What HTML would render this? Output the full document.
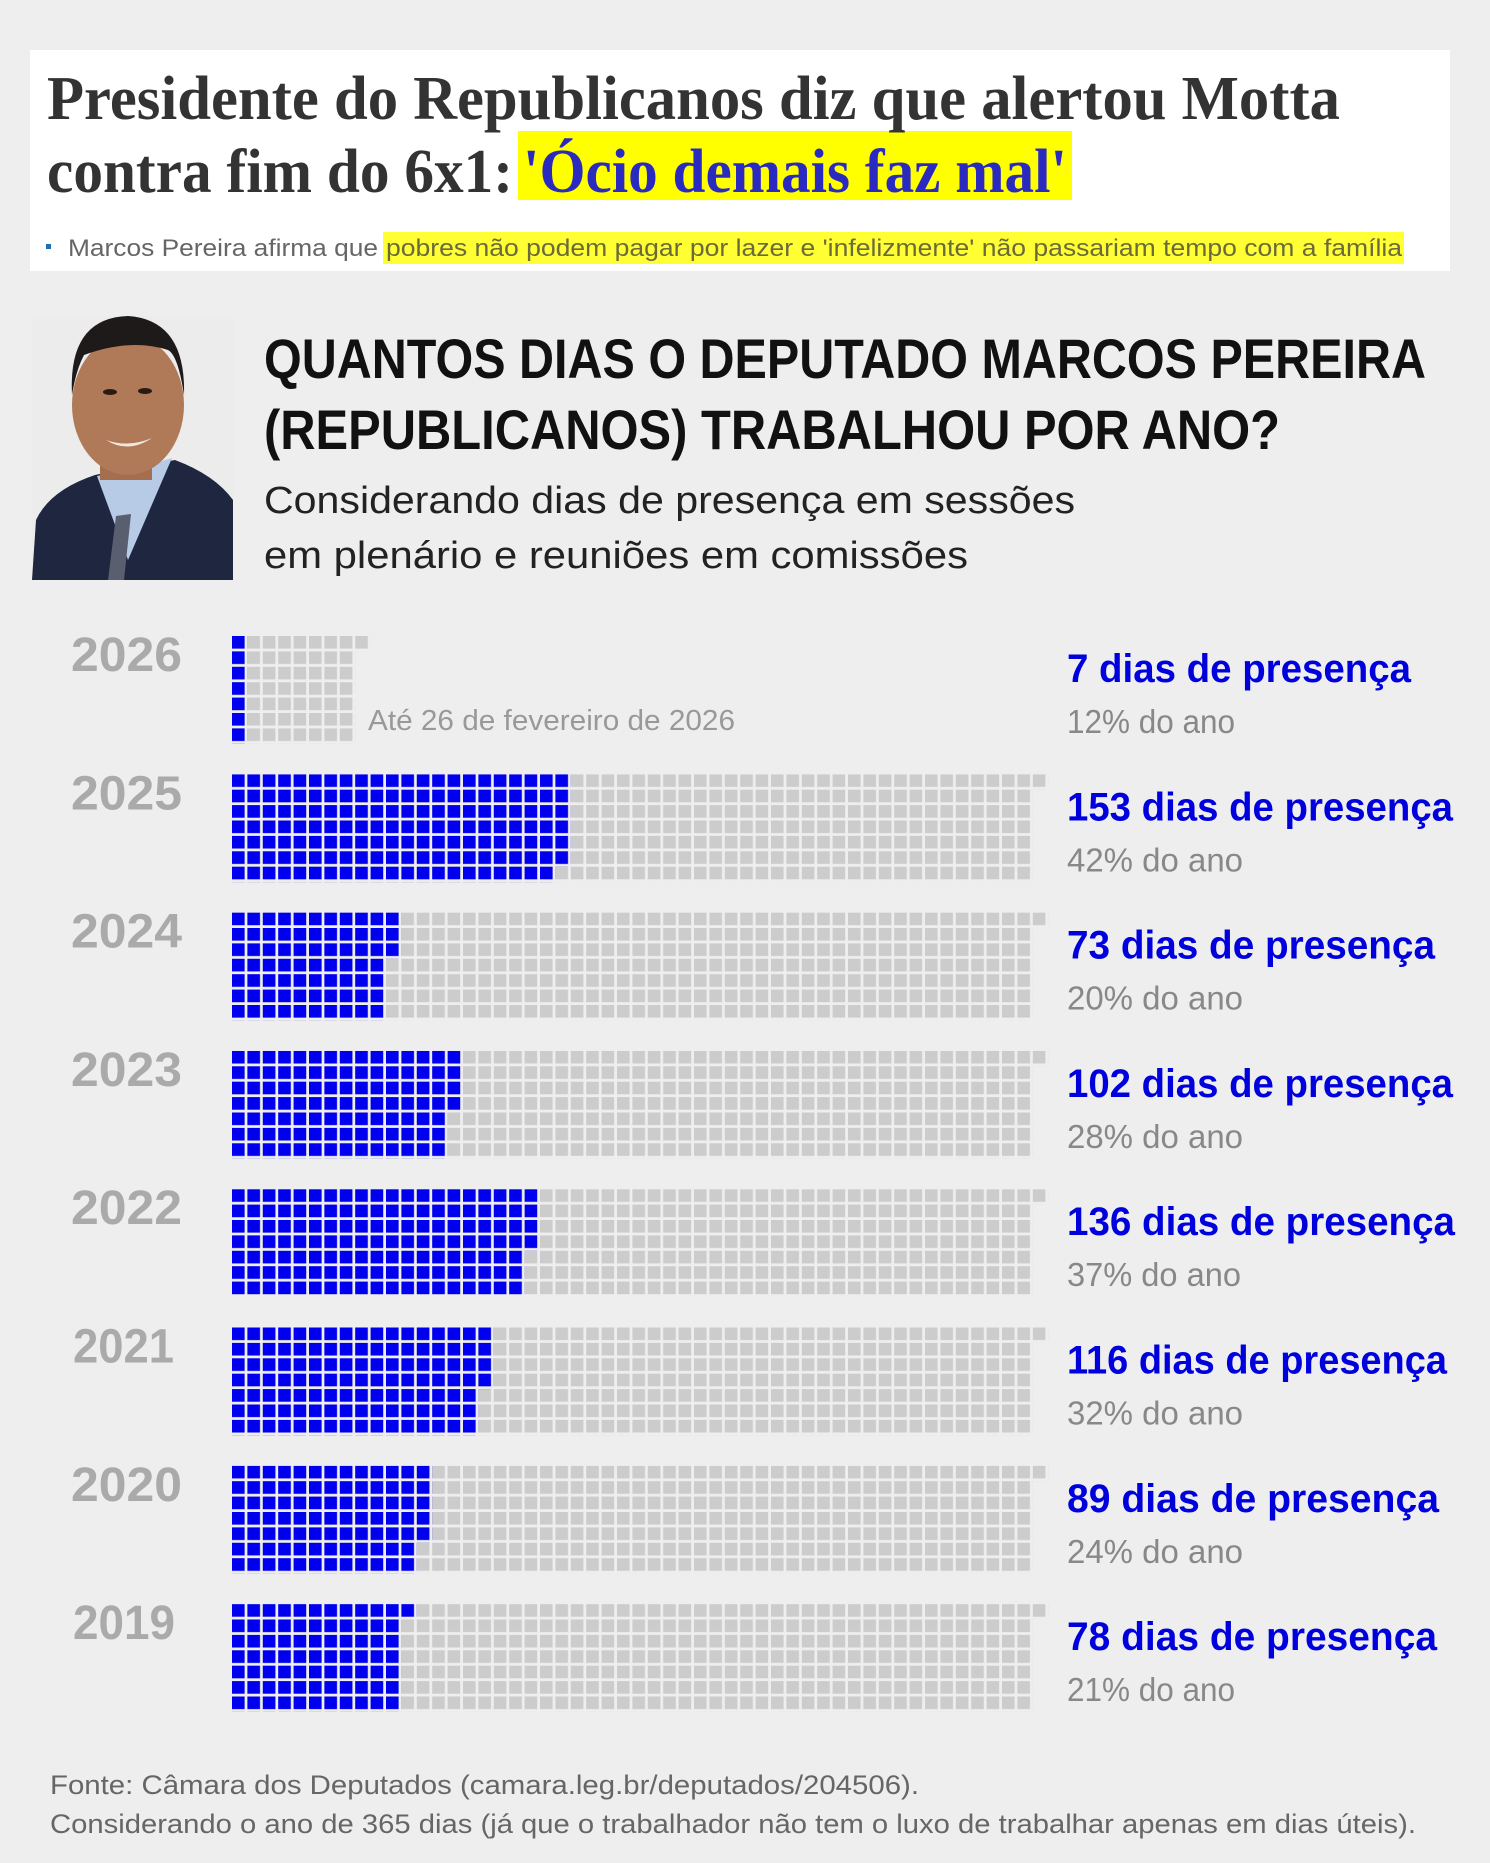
<!DOCTYPE html>
<html><head><meta charset="utf-8"><style>
html,body{margin:0;padding:0;background:#eeeeee;}
svg{display:block;}
</style></head><body>
<svg width="1490" height="1863" viewBox="0 0 1490 1863" xmlns="http://www.w3.org/2000/svg">
<defs>
<pattern id="pg" patternUnits="userSpaceOnUse" x="232" y="0" width="15.4" height="15.4"><rect width="12.6" height="12.6" fill="#cccccc"/></pattern>
<pattern id="pb" patternUnits="userSpaceOnUse" x="232" y="0" width="15.4" height="15.4"><rect width="12.6" height="12.6" fill="#0000ee"/></pattern>
</defs>
<rect width="1490" height="1863" fill="#eeeeee"/>
<rect x="30" y="50" width="1420" height="221" fill="#ffffff"/>
<rect x="518" y="131" width="554" height="69" fill="#ffff00"/>
<rect x="383" y="232" width="1021" height="32" fill="#ffff33"/>
<g font-family="Liberation Serif, serif" font-weight="bold" font-size="62" fill="#333">
<text x="47" y="119" textLength="1293" lengthAdjust="spacingAndGlyphs">Presidente do Republicanos diz que alertou Motta</text>
<text x="47" y="192" textLength="466" lengthAdjust="spacingAndGlyphs">contra fim do 6x1:</text>
<text x="523" y="192" textLength="544" lengthAdjust="spacingAndGlyphs" fill="#2a2ac0">'Ócio demais faz mal'</text>
</g>
<rect x="46" y="244" width="5" height="5" fill="#1a6fb5"/>
<g font-family="Liberation Sans, sans-serif" font-size="24" fill="#666">
<text x="68" y="256" textLength="310" lengthAdjust="spacingAndGlyphs">Marcos Pereira afirma que</text>
<text x="386" y="256" textLength="1016" lengthAdjust="spacingAndGlyphs" fill="#6a6a3a">pobres não podem pagar por lazer e 'infelizmente' não passariam tempo com a família</text>
</g>
<g>
<rect x="32" y="316" width="201" height="264" fill="#ececec"/>
<path d="M32 580 L36 520 Q50 490 95 475 L128 468 L175 460 Q215 475 233 500 L233 580 Z" fill="#1f2640"/>
<path d="M97 476 L128 560 L172 458 Q140 468 97 476 Z" fill="#b8cbe6"/>
<path d="M116 516 L131 514 L124 580 L108 580 Z" fill="#5a5f70"/>
<rect x="100" y="450" width="52" height="30" fill="#a56f4f"/>
<ellipse cx="128" cy="405" rx="56" ry="70" fill="#b07a58"/>
<path d="M72 395 Q68 318 128 316 Q186 320 184 395 Q178 355 168 350 Q130 338 84 355 Q76 370 72 395 Z" fill="#1d1a19"/>
<ellipse cx="110" cy="392" rx="7" ry="3" fill="#2a1a14"/>
<ellipse cx="145" cy="391" rx="7" ry="3" fill="#2a1a14"/>
<path d="M106 440 Q128 454 152 438 Q128 448 106 440 Z" fill="#f2e6e0"/>
</g>
<g font-family="Liberation Sans, sans-serif" font-weight="bold" font-size="56" fill="#111">
<text x="264" y="378" textLength="1162" lengthAdjust="spacingAndGlyphs">QUANTOS DIAS O DEPUTADO MARCOS PEREIRA</text>
<text x="264" y="449" textLength="1016" lengthAdjust="spacingAndGlyphs">(REPUBLICANOS) TRABALHOU POR ANO?</text>
</g>
<g font-family="Liberation Sans, sans-serif" font-size="38" fill="#222">
<text x="264" y="513" textLength="811" lengthAdjust="spacingAndGlyphs">Considerando dias de presença em sessões</text>
<text x="264" y="568" textLength="704" lengthAdjust="spacingAndGlyphs">em plenário e reuniões em comissões</text>
</g>

<g transform="translate(0,636)">
<rect x="232" y="0" width="123.2" height="107.8" fill="url(#pg)"/>
<rect x="355.2" y="0" width="15.4" height="15.4" fill="url(#pg)"/>
<rect x="232" y="0" width="15.4" height="107.8" fill="url(#pb)"/>
<text x="71" y="35" font-family="Liberation Sans, sans-serif" font-weight="bold" font-size="48" fill="#aaa" textLength="111" lengthAdjust="spacingAndGlyphs">2026</text>
<text x="368" y="94" font-family="Liberation Sans, sans-serif" font-size="29" fill="#999" textLength="367" lengthAdjust="spacingAndGlyphs">Até 26 de fevereiro de 2026</text>
<text x="1067" y="46" font-family="Liberation Sans, sans-serif" font-weight="bold" font-size="40" fill="#0000dd" textLength="344" lengthAdjust="spacingAndGlyphs">7 dias de presença</text>
<text x="1067" y="97" font-family="Liberation Sans, sans-serif" font-size="33" fill="#888" textLength="168" lengthAdjust="spacingAndGlyphs">12% do ano</text>
</g>

<g transform="translate(0,774.3)">
<rect x="232" y="0" width="800.8" height="107.8" fill="url(#pg)"/><rect x="1032.8" y="0" width="15.4" height="15.4" fill="url(#pg)"/>
<rect x="232" y="0" width="323.4" height="107.8" fill="url(#pb)"/><rect x="555.4" y="0" width="15.4" height="92.4" fill="url(#pb)"/>
<text x="71" y="35" font-family="Liberation Sans, sans-serif" font-weight="bold" font-size="48" fill="#aaa" textLength="111" lengthAdjust="spacingAndGlyphs">2025</text>
<text x="1067" y="46" font-family="Liberation Sans, sans-serif" font-weight="bold" font-size="40" fill="#0000dd" textLength="386" lengthAdjust="spacingAndGlyphs">153 dias de presença</text>
<text x="1067" y="97" font-family="Liberation Sans, sans-serif" font-size="33" fill="#888" textLength="176" lengthAdjust="spacingAndGlyphs">42% do ano</text>
</g>
<g transform="translate(0,912.6)">
<rect x="232" y="0" width="800.8" height="107.8" fill="url(#pg)"/><rect x="1032.8" y="0" width="15.4" height="15.4" fill="url(#pg)"/>
<rect x="232" y="0" width="154" height="107.8" fill="url(#pb)"/><rect x="386" y="0" width="15.4" height="46.2" fill="url(#pb)"/>
<text x="71" y="35" font-family="Liberation Sans, sans-serif" font-weight="bold" font-size="48" fill="#aaa" textLength="111" lengthAdjust="spacingAndGlyphs">2024</text>
<text x="1067" y="46" font-family="Liberation Sans, sans-serif" font-weight="bold" font-size="40" fill="#0000dd" textLength="368" lengthAdjust="spacingAndGlyphs">73 dias de presença</text>
<text x="1067" y="97" font-family="Liberation Sans, sans-serif" font-size="33" fill="#888" textLength="176" lengthAdjust="spacingAndGlyphs">20% do ano</text>
</g>
<g transform="translate(0,1050.9)">
<rect x="232" y="0" width="800.8" height="107.8" fill="url(#pg)"/><rect x="1032.8" y="0" width="15.4" height="15.4" fill="url(#pg)"/>
<rect x="232" y="0" width="215.6" height="107.8" fill="url(#pb)"/><rect x="447.6" y="0" width="15.4" height="61.6" fill="url(#pb)"/>
<text x="71" y="35" font-family="Liberation Sans, sans-serif" font-weight="bold" font-size="48" fill="#aaa" textLength="111" lengthAdjust="spacingAndGlyphs">2023</text>
<text x="1067" y="46" font-family="Liberation Sans, sans-serif" font-weight="bold" font-size="40" fill="#0000dd" textLength="386" lengthAdjust="spacingAndGlyphs">102 dias de presença</text>
<text x="1067" y="97" font-family="Liberation Sans, sans-serif" font-size="33" fill="#888" textLength="176" lengthAdjust="spacingAndGlyphs">28% do ano</text>
</g>
<g transform="translate(0,1189.2)">
<rect x="232" y="0" width="800.8" height="107.8" fill="url(#pg)"/><rect x="1032.8" y="0" width="15.4" height="15.4" fill="url(#pg)"/>
<rect x="232" y="0" width="292.6" height="107.8" fill="url(#pb)"/><rect x="524.6" y="0" width="15.4" height="61.6" fill="url(#pb)"/>
<text x="71" y="35" font-family="Liberation Sans, sans-serif" font-weight="bold" font-size="48" fill="#aaa" textLength="111" lengthAdjust="spacingAndGlyphs">2022</text>
<text x="1067" y="46" font-family="Liberation Sans, sans-serif" font-weight="bold" font-size="40" fill="#0000dd" textLength="388" lengthAdjust="spacingAndGlyphs">136 dias de presença</text>
<text x="1067" y="97" font-family="Liberation Sans, sans-serif" font-size="33" fill="#888" textLength="174" lengthAdjust="spacingAndGlyphs">37% do ano</text>
</g>
<g transform="translate(0,1327.5)">
<rect x="232" y="0" width="800.8" height="107.8" fill="url(#pg)"/><rect x="1032.8" y="0" width="15.4" height="15.4" fill="url(#pg)"/>
<rect x="232" y="0" width="246.4" height="107.8" fill="url(#pb)"/><rect x="478.4" y="0" width="15.4" height="61.6" fill="url(#pb)"/>
<text x="73" y="35" font-family="Liberation Sans, sans-serif" font-weight="bold" font-size="48" fill="#aaa" textLength="101" lengthAdjust="spacingAndGlyphs">2021</text>
<text x="1067" y="46" font-family="Liberation Sans, sans-serif" font-weight="bold" font-size="40" fill="#0000dd" textLength="380" lengthAdjust="spacingAndGlyphs">116 dias de presença</text>
<text x="1067" y="97" font-family="Liberation Sans, sans-serif" font-size="33" fill="#888" textLength="176" lengthAdjust="spacingAndGlyphs">32% do ano</text>
</g>
<g transform="translate(0,1465.8)">
<rect x="232" y="0" width="800.8" height="107.8" fill="url(#pg)"/><rect x="1032.8" y="0" width="15.4" height="15.4" fill="url(#pg)"/>
<rect x="232" y="0" width="184.8" height="107.8" fill="url(#pb)"/><rect x="416.8" y="0" width="15.4" height="77" fill="url(#pb)"/>
<text x="71" y="35" font-family="Liberation Sans, sans-serif" font-weight="bold" font-size="48" fill="#aaa" textLength="111" lengthAdjust="spacingAndGlyphs">2020</text>
<text x="1067" y="46" font-family="Liberation Sans, sans-serif" font-weight="bold" font-size="40" fill="#0000dd" textLength="372" lengthAdjust="spacingAndGlyphs">89 dias de presença</text>
<text x="1067" y="97" font-family="Liberation Sans, sans-serif" font-size="33" fill="#888" textLength="176" lengthAdjust="spacingAndGlyphs">24% do ano</text>
</g>
<g transform="translate(0,1604.1)">
<rect x="232" y="0" width="800.8" height="107.8" fill="url(#pg)"/><rect x="1032.8" y="0" width="15.4" height="15.4" fill="url(#pg)"/>
<rect x="232" y="0" width="169.4" height="107.8" fill="url(#pb)"/><rect x="401.4" y="0" width="15.4" height="15.4" fill="url(#pb)"/>
<text x="73" y="35" font-family="Liberation Sans, sans-serif" font-weight="bold" font-size="48" fill="#aaa" textLength="102" lengthAdjust="spacingAndGlyphs">2019</text>
<text x="1067" y="46" font-family="Liberation Sans, sans-serif" font-weight="bold" font-size="40" fill="#0000dd" textLength="370" lengthAdjust="spacingAndGlyphs">78 dias de presença</text>
<text x="1067" y="97" font-family="Liberation Sans, sans-serif" font-size="33" fill="#888" textLength="168" lengthAdjust="spacingAndGlyphs">21% do ano</text>
</g>

<g font-family="Liberation Sans, sans-serif" font-size="27" fill="#666">
<text x="50" y="1794" textLength="869" lengthAdjust="spacingAndGlyphs">Fonte: Câmara dos Deputados (camara.leg.br/deputados/204506).</text>
<text x="50" y="1833" textLength="1366" lengthAdjust="spacingAndGlyphs">Considerando o ano de 365 dias (já que o trabalhador não tem o luxo de trabalhar apenas em dias úteis).</text>
</g>
</svg>
</body></html>
